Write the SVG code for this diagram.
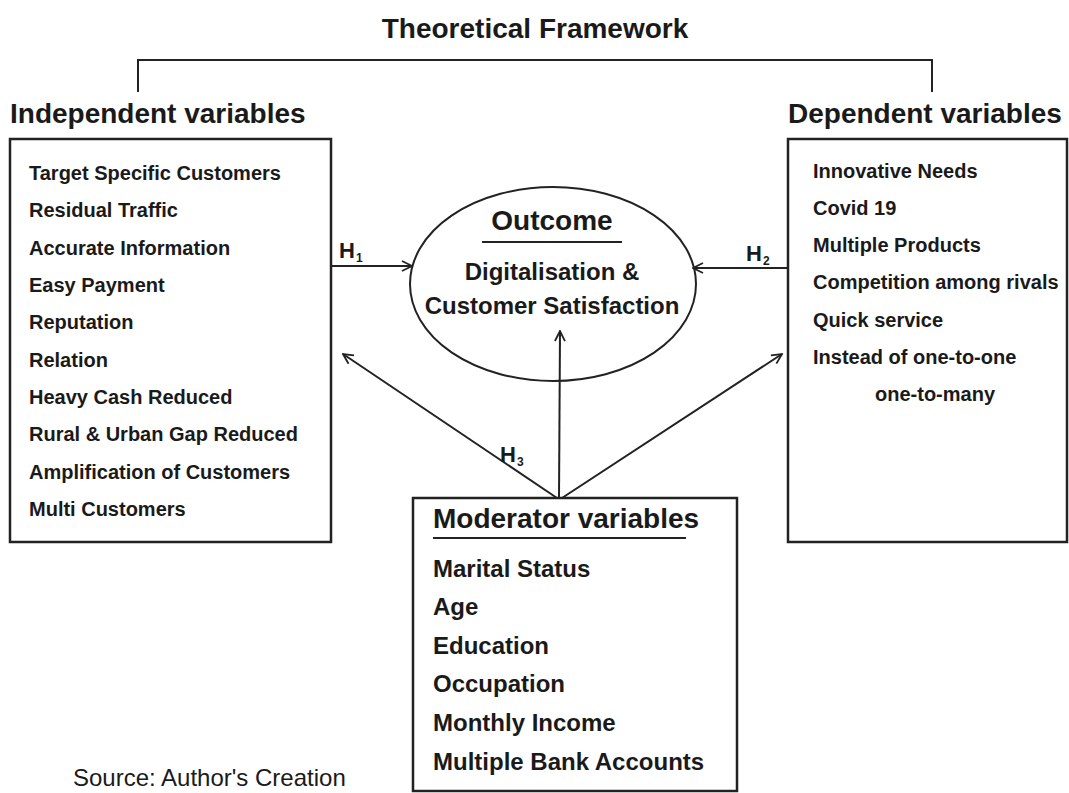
<svg xmlns="http://www.w3.org/2000/svg" width="1069" height="793" viewBox="0 0 1069 793">
  <style>
    text { font-family: "Liberation Sans", Arial, sans-serif; fill: #1a1a1a; }
    .head { font-size: 28px; font-weight: bold; }
    .item { font-size: 20px; font-weight: bold; }
    .mod { font-size: 24px; font-weight: bold; }
    .out2 { font-size: 24px; font-weight: bold; }
    .hyp { font-size: 22px; font-weight: bold; }
    .sub { font-size: 12px; font-weight: bold; }
    .src { font-size: 24px; }
    .box { fill: #fff; stroke: #222; stroke-width: 2.5; }
    .line { fill: none; stroke: #222; stroke-width: 2; }
    .conn { fill: none; stroke: #222; stroke-width: 2; marker-end: url(#open); }
  </style>
  <defs>
    <marker id="open" viewBox="0 0 12 12" refX="11" refY="6" markerWidth="12" markerHeight="12" markerUnits="userSpaceOnUse" orient="auto">
      <path d="M1,1 L11,6 L1,11" fill="none" stroke="#222" stroke-width="1.8"/>
    </marker>
  </defs>
  <rect width="1069" height="793" fill="#fff"/>

  <!-- title and bracket -->
  <g id="title">
    <text class="head" x="535" y="38" text-anchor="middle">Theoretical Framework</text>
    <path class="line" d="M138,92 V60 H932 V92"/>
  </g>

  <!-- independent variables -->
  <g id="independent">
    <text class="head" x="10" y="123">Independent variables</text>
    <rect class="box" x="10" y="139" width="321" height="403"/>
    <text class="item" x="29" y="180">Target Specific Customers</text>
    <text class="item" x="29" y="217">Residual Traffic</text>
    <text class="item" x="29" y="255">Accurate Information</text>
    <text class="item" x="29" y="292">Easy Payment</text>
    <text class="item" x="29" y="329">Reputation</text>
    <text class="item" x="29" y="367">Relation</text>
    <text class="item" x="29" y="404">Heavy Cash Reduced</text>
    <text class="item" x="29" y="441">Rural &amp; Urban Gap Reduced</text>
    <text class="item" x="29" y="479">Amplification of Customers</text>
    <text class="item" x="29" y="516">Multi Customers</text>
  </g>

  <!-- dependent variables -->
  <g id="dependent">
    <text class="head" x="788" y="123">Dependent variables</text>
    <rect class="box" x="788" y="139" width="279" height="403"/>
    <text class="item" x="813" y="178">Innovative Needs</text>
    <text class="item" x="813" y="215">Covid 19</text>
    <text class="item" x="813" y="252">Multiple Products</text>
    <text class="item" x="813" y="289">Competition among rivals</text>
    <text class="item" x="813" y="327">Quick service</text>
    <text class="item" x="813" y="364">Instead of one-to-one</text>
    <text class="item" x="875" y="401">one-to-many</text>
  </g>

  <!-- outcome -->
  <g id="outcome">
    <ellipse cx="553" cy="284" rx="143" ry="97" fill="none" stroke="#222" stroke-width="2"/>
    <text class="head" x="552" y="230" text-anchor="middle">Outcome</text>
    <line x1="482" y1="242" x2="622" y2="242" stroke="#222" stroke-width="2"/>
    <text class="out2" x="552" y="280" text-anchor="middle">Digitalisation &amp;</text>
    <text class="out2" x="552" y="314" text-anchor="middle">Customer Satisfaction</text>
  </g>

  <!-- moderator variables -->
  <g id="moderator">
    <rect class="box" x="413" y="498" width="324" height="293"/>
    <text class="head" x="433" y="528">Moderator variables</text>
    <line x1="433" y1="538" x2="686" y2="538" stroke="#222" stroke-width="2"/>
    <text class="mod" x="433" y="577">Marital Status</text>
    <text class="mod" x="433" y="615">Age</text>
    <text class="mod" x="433" y="654">Education</text>
    <text class="mod" x="433" y="692">Occupation</text>
    <text class="mod" x="433" y="731">Monthly Income</text>
    <text class="mod" x="433" y="770">Multiple Bank Accounts</text>
  </g>

  <!-- connectors -->
  <g id="connectors">
    <line class="conn" x1="331" y1="266" x2="412" y2="266"/>
    <line class="conn" x1="788" y1="268" x2="693" y2="268"/>
    <line class="conn" x1="559" y1="498" x2="560" y2="331"/>
    <line class="conn" x1="557" y1="498" x2="343" y2="354"/>
    <line class="conn" x1="562" y1="498" x2="782" y2="354"/>
    <text class="hyp" x="339" y="258">H</text><text class="sub" x="356" y="262">1</text>
    <text class="hyp" x="746" y="261">H</text><text class="sub" x="763" y="265">2</text>
    <text class="hyp" x="500" y="462">H</text><text class="sub" x="517" y="466">3</text>
  </g>

  <!-- source note -->
  <text class="src" x="73" y="786">Source: Author's Creation</text>
</svg>
